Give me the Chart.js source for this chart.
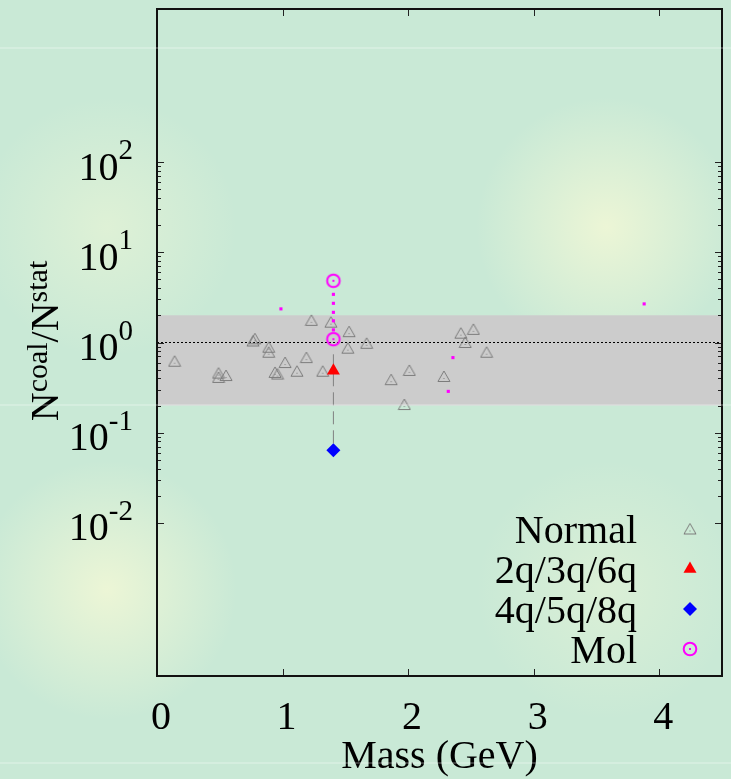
<!DOCTYPE html>
<html>
<head>
<meta charset="utf-8">
<script src="https://cdn.jsdelivr.net/npm/chart.js@4/dist/chart.umd.min.js"></script>
<style>
  html, body { margin: 0; padding: 0; background: #cae9d6; }
  canvas { display: block; }
</style>
</head>
<body>
<canvas id="ratioChart" width="731" height="779"></canvas>
<script>
/* ------------------------------
 data
--------------------------------*/
var normalMass  = [0.14, 0.49, 0.49, 0.55, 0.78, 0.765, 0.89, 0.89, 1.02, 0.94, 0.96, 1.115, 1.19, 1.23,
                   1.32, 1.385, 1.53, 1.52, 1.67, 1.865, 2.01, 1.97, 2.285, 2.42, 2.52, 2.455, 2.625];
var normalRatio = [0.62, 0.458, 0.41, 0.43, 1.10, 1.04, 0.887, 0.78, 0.60, 0.466, 0.447, 0.48, 0.68, 1.76,
                   0.48, 1.68, 1.32, 0.865, 0.98, 0.387, 0.49, 0.205, 0.42, 1.27, 1.40, 1.0, 0.78];

var compactMass  = [1.405];          // 2q/3q/6q
var compactRatio = [0.486];
var multiMass    = [1.405];          // 4q/5q/8q
var multiRatio   = [0.064];
var molMass      = [1.405, 1.405];   // Mol
var molRatio     = [4.84, 1.09];

var molRangeMass  = [1.405, 1.405, 1.405, 1.405, 1.405];
var molRangeRatio = [3.42, 2.72, 2.16, 1.74, 1.38];
var extraMass     = [0.987, 2.32, 2.357, 3.88];
var extraRatio    = [2.36, 0.287, 0.68, 2.68];
var linkMass      = [1.405, 1.405];
var linkRatio     = [0.74, 0.064];

var bandLow = 0.2, bandHigh = 2.0;
var xRange = [0, 4.5];
var yRange = [2e-4, 5e3];

var xTicks   = [0, 1, 2, 3, 4];
var yTicks   = [1e-2, 1e-1, 1, 1e1, 1e2];
var yTickExp = ["-2", "-1", "0", "1", "2"];
var legendLabels = ["Normal", "2q/3q/6q", "4q/5q/8q", "Mol"];

function pts(xs, ys) {
  return xs.map(function (x, i) { return { x: x, y: ys[i] }; });
}

/*------------------------------------
* marker images
------------------------------------ */
function triangleImg(color) {
  var c = document.createElement("canvas");
  c.width = 14; c.height = 13;
  var g = c.getContext("2d");
  g.strokeStyle = color;
  g.lineWidth = 1;
  g.beginPath();
  g.moveTo(7, 1); g.lineTo(13, 11.5); g.lineTo(1, 11.5); g.closePath();
  g.stroke();
  g.fillStyle = color;
  g.fillRect(6.5, 8, 1, 1);
  return c;
}
function molImg(color) {
  var c = document.createElement("canvas");
  c.width = 18; c.height = 18;
  var g = c.getContext("2d");
  g.strokeStyle = color;
  g.lineWidth = 2;
  g.beginPath(); g.arc(9, 9, 6.3, 0, Math.PI * 2); g.stroke();
  g.fillStyle = color;
  g.fillRect(8, 8, 2, 2);
  return c;
}
var triImg = triangleImg("#7c7c7c");
var circImg = molImg("#ff00ff");

var SERIF = '"Liberation Serif", "Times New Roman", serif';

/*------------------------------------
* background, frame, ticks, labels, legend
------------------------------------ */
var decor = {
  id: "decor",
  beforeDraw: function (chart) {
    var g = chart.ctx;
    g.save();
    g.fillStyle = "#c9e9d6";
    g.fillRect(0, 0, chart.width, chart.height);
    [[107, 227, 130, 0.55], [606, 227, 130, 0.9], [107, 590, 130, 0.9], [606, 590, 130, 0.45]].forEach(function (p) {
      var r = g.createRadialGradient(p[0], p[1], 0, p[0], p[1], p[2]);
      r.addColorStop(0, "rgba(240,247,214," + p[3] + ")");
      r.addColorStop(1, "rgba(240,247,214,0)");
      g.fillStyle = r;
      g.fillRect(p[0] - p[2], p[1] - p[2], p[2] * 2, p[2] * 2);
    });
    g.restore();
  },
  afterDatasetsDraw: function (chart) {
    var g = chart.ctx, a = chart.chartArea;
    var xs = chart.scales.x, ys = chart.scales.y;
    g.save();
    // ticks
    g.strokeStyle = "#222";
    g.lineWidth = 1;
    g.beginPath();
    xTicks.forEach(function (v) {
      var px = Math.round(xs.getPixelForValue(v)) + 0.5;
      g.moveTo(px, a.bottom); g.lineTo(px, a.bottom - 7);
      g.moveTo(px, a.top); g.lineTo(px, a.top + 7);
    });
    yTicks.forEach(function (v, i) {
      var py = Math.round(ys.getPixelForValue(v)) + 0.5;
      g.moveTo(a.left, py); g.lineTo(a.left + 7, py);
      g.moveTo(a.right, py); g.lineTo(a.right - 7, py);
      if (i < yTicks.length - 1) {
        for (var k = 2; k <= 9; k++) {
          var pm = Math.round(ys.getPixelForValue(v * k)) + 0.5;
          g.moveTo(a.left, pm); g.lineTo(a.left + 4, pm);
          g.moveTo(a.right, pm); g.lineTo(a.right - 4, pm);
        }
      }
    });
    g.stroke();
    // frame
    g.strokeStyle = "#111";
    g.lineWidth = 2;
    g.strokeRect(a.left, a.top, a.right - a.left, a.bottom - a.top);

    // tick labels
    g.fillStyle = "#000";
    g.textBaseline = "alphabetic";
    yTicks.forEach(function (v, i) {
      var py = ys.getPixelForValue(v);
      g.font = "29px " + SERIF;
      var ew = g.measureText(yTickExp[i]).width;
      g.textAlign = "left";
      g.fillText(yTickExp[i], 133 - ew, py - 3);
      g.font = "40px " + SERIF;
      g.textAlign = "right";
      g.fillText("10", 133 - ew, py + 17.5);
    });
    g.font = "40px " + SERIF;
    g.textAlign = "center";
    xTicks.forEach(function (v) {
      g.fillText(String(v), xs.getPixelForValue(v) + 4, 729);
    });
    g.fillText("Mass (GeV)", (a.left + a.right) / 2, 768);

    // y title  N^coal / N^stat
    var parts = [["N", 40, 0], ["coal", 30, 11], ["/", 40, 0], ["N", 40, 0], ["stat", 30, 11]];
    var total = 0;
    parts.forEach(function (p) { g.font = p[1] + "px " + SERIF; p.push(g.measureText(p[0]).width); total += p[3]; });
    g.translate(58, 341);
    g.rotate(-Math.PI / 2);
    g.textAlign = "left";
    var cx = -total / 2;
    parts.forEach(function (p) {
      g.font = p[1] + "px " + SERIF;
      g.fillText(p[0], cx, -p[2]);
      cx += p[3];
    });
    g.restore();
  },
  afterDraw: function (chart) {
    var g = chart.ctx;
    g.save();
    // legend
    g.font = "40px " + SERIF;
    g.fillStyle = "#000";
    g.textAlign = "right";
    var base = [543, 583, 623, 663];
    legendLabels.forEach(function (t, i) { g.fillText(t, 637, base[i]); });
    var mx = 690;
    g.drawImage(triImg, mx - 7, base[0] - 14 - 6.5);
    g.fillStyle = "#ff0000";
    g.beginPath();
    var r = 7.5, my = base[1] - 14;
    g.moveTo(mx, my - r); g.lineTo(mx + r * 0.866, my + r / 2); g.lineTo(mx - r * 0.866, my + r / 2); g.closePath();
    g.fill();
    g.fillStyle = "#0000ff";
    g.beginPath();
    my = base[2] - 14; r = 7;
    g.moveTo(mx - r, my); g.lineTo(mx, my - r); g.lineTo(mx + r, my); g.lineTo(mx, my + r); g.closePath();
    g.fill();
    g.drawImage(circImg, mx - 9, base[3] - 14 - 9);
    // faint scan lines of the original picture
    g.fillStyle = "rgba(255,255,255,0.22)";
    [48, 405, 763].forEach(function (y) { g.fillRect(0, y - 1, chart.width, 2); });
    g.restore();
  }
};

/*------------------------------------
* Chart
------------------------------------ */
var ratioChart = new Chart(document.getElementById("ratioChart"), {
  type: "scatter",
  data: {
    datasets: [
      {
        label: "band", type: "line", order: 10,
        data: pts(xRange, [bandHigh, bandHigh]),
        fill: { value: bandLow },
        backgroundColor: "#cccccc", borderWidth: 0, pointRadius: 0,
      },
      {
        label: "unity", type: "line", order: 9,
        data: pts(xRange, [1, 1]),
        borderColor: "#000", borderWidth: 1, borderDash: [2, 2], pointRadius: 0, fill: false,
      },
      {
        label: "link", type: "line", order: 8,
        data: pts(linkMass, linkRatio),
        borderColor: "#808080", borderWidth: 1, borderDash: [13, 6], pointRadius: 0, fill: false,
      },
      {
        label: "Normal", order: 6,
        data: pts(normalMass, normalRatio),
        pointStyle: triImg, pointRadius: 6,
      },
      {
        label: "mol range", order: 5,
        data: pts(molRangeMass, molRangeRatio),
        pointStyle: "rect", pointRadius: 2.2, backgroundColor: "#ff00ff", borderWidth: 0,
      },
      {
        label: "extra", order: 5,
        data: pts(extraMass, extraRatio),
        pointStyle: "rect", pointRadius: 2.2, backgroundColor: "#ff00ff", borderWidth: 0,
      },
      {
        label: "2q/3q/6q", order: 3,
        data: pts(compactMass, compactRatio),
        pointStyle: "triangle", pointRadius: 7.5, backgroundColor: "#ff0000", borderWidth: 0,
      },
      {
        label: "4q/5q/8q", order: 3,
        data: pts(multiMass, multiRatio),
        pointStyle: "rectRot", pointRadius: 7, backgroundColor: "#0000ff", borderWidth: 0,
      },
      {
        label: "Mol", order: 2,
        data: pts(molMass, molRatio),
        pointStyle: circImg, pointRadius: 8,
      },
    ],
  },
  options: {
    responsive: false,
    animation: false,
    events: [],
    layout: { padding: { left: 157, right: 5.5, top: 6.5, bottom: 103 } },
    plugins: { legend: { display: false }, tooltip: { enabled: false } },
    scales: {
      x: { type: "linear", min: xRange[0], max: xRange[1], display: false },
      y: { type: "logarithmic", min: yRange[0], max: yRange[1], display: false },
    },
  },
  plugins: [decor],
});
</script>
</body>
</html>
